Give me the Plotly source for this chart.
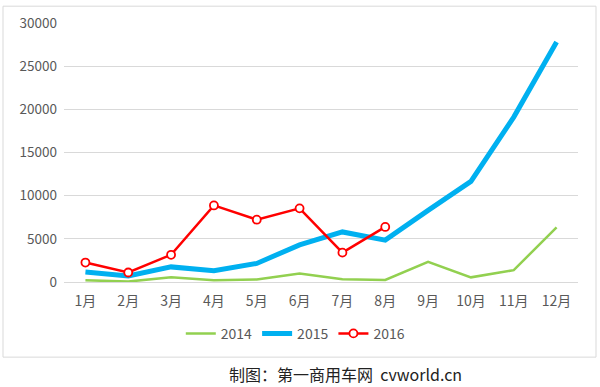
import plotly.graph_objects as go

months = ["1月", "2月", "3月", "4月", "5月", "6月", "7月", "8月", "9月", "10月", "11月", "12月"]
sales_2014 = [200, 50, 550, 200, 300, 980, 330, 230, 2330, 540, 1370, 6340]
sales_2015 = [1150, 700, 1750, 1300, 2150, 4300, 5800, 4850, 8300, 11650, 19100, 27800]
months_2016 = months[:8]
sales_2016 = [2250, 1100, 3150, 8870, 7220, 8530, 3400, 6380]

fig = go.Figure()
fig.add_trace(go.Scatter(x=months, y=sales_2014, name="2014", mode="lines",
                         line=dict(color="#92D050", width=2.5)))
fig.add_trace(go.Scatter(x=months, y=sales_2015, name="2015", mode="lines",
                         line=dict(color="#00B0F0", width=5)))
fig.add_trace(go.Scatter(x=months_2016, y=sales_2016, name="2016", mode="lines+markers",
                         line=dict(color="#FF0000", width=2.5),
                         marker=dict(symbol="circle", size=8, color="white",
                                     line=dict(color="#FF0000", width=1.8))))

font_main = "Noto Sans CJK SC, Noto Sans, sans-serif"

fig.update_layout(
    width=600, height=387,
    margin=dict(l=64, r=22, t=20, b=105),
    paper_bgcolor="white", plot_bgcolor="white",
    font=dict(family=font_main, size=14, color="#595959"),
    showlegend=True,
    legend=dict(orientation="h", x=0.45, xanchor="center", y=-0.2, yanchor="middle",
                font=dict(size=14, color="#595959"), itemwidth=30, tracegroupgap=0),
    xaxis=dict(type="category", categoryorder="array", categoryarray=months,
               range=[-0.5, 11.5], showgrid=False, showline=False, zeroline=False,
               ticks="", ticklabelstandoff=9, tickfont=dict(size=14, color="#595959")),
    yaxis=dict(range=[0, 30000], dtick=5000, tickformat="d", showgrid=True,
               gridcolor="#D9D9D9", gridwidth=1, zeroline=True,
               zerolinecolor="#D9D9D9", zerolinewidth=1,
               showline=False, ticks="", ticklabelstandoff=6,
               tickfont=dict(size=13.5, color="#595959")),
    shapes=[dict(type="rect", xref="paper", yref="paper",
                 x0=(3 - 64) / 514, x1=(596 - 64) / 514,
                 y0=(282 - 358) / 262, y1=(282 - 3) / 262,
                 line=dict(color="#D9D9D9", width=1), fillcolor="rgba(0,0,0,0)",
                 layer="below")],
    annotations=[dict(text="制图：第一商用车网  cvworld.cn", xref="paper", yref="paper",
                      x=(345 - 64) / 514, y=(282 - 375) / 262, xanchor="center",
                      yanchor="middle", showarrow=False,
                      font=dict(family=font_main, size=16, color="#222222"))],
)

fig.write_html("out.html", config={"displayModeBar": False},
               post_script="document.body.style.margin='0';document.body.style.padding='0';")
